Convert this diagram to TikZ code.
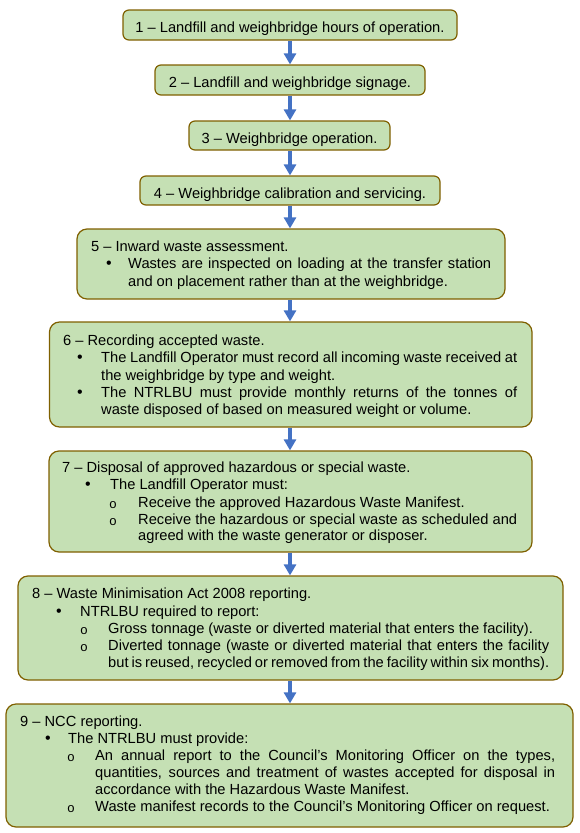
\documentclass[tikz,border=0pt]{standalone}
\usepackage{fontspec}
\setmainfont{Liberation Sans}
\newfontfamily\monofnt{Liberation Mono}
\usetikzlibrary{arrows.meta}
\definecolor{boxfill}{HTML}{C5E0B4}
\definecolor{boxline}{HTML}{7F6000}
\definecolor{arrblue}{HTML}{4472C4}
\tikzset{
  box/.style={draw=boxline, fill=boxfill, line width=1.2pt, inner sep=0pt, rounded corners=10pt},
  sbox/.style={box, rounded corners=6pt},
  txt/.style={anchor=base west, inner sep=0pt, font=\fontsize{14.67}{17.2}\selectfont},
  ctxt/.style={anchor=base, inner sep=0pt, font=\fontsize{14.67}{17.2}\selectfont},
  bul/.style={anchor=base, inner sep=0pt, font=\fontsize{16}{17.2}\selectfont},
  subb/.style={anchor=base, inner sep=0pt, font=\monofnt\fontsize{13}{17.2}\selectfont},
  arr/.style={draw=arrblue, line width=4.5pt, -{Triangle[width=12pt,length=11pt]}},
}
\newcommand{\jl}[2]{\makebox[#1pt][s]{#2}}
\begin{document}
\begin{tikzpicture}[x=1pt,y=-1pt]
\useasboundingbox (0,0) rectangle (580,833);
% boxes
\node[sbox, minimum width=334pt, minimum height=30pt] (b1) at (290,25) {};
\node[sbox, minimum width=270pt, minimum height=30pt] (b2) at (290,80) {};
\node[sbox, minimum width=201pt, minimum height=29pt] (b3) at (289.5,135.5) {};
\node[sbox, minimum width=300pt, minimum height=29pt] (b4) at (290,190.5) {};
\node[box, minimum width=428pt, minimum height=70pt] (b5) at (291,264) {};
\node[box, minimum width=482.5pt, minimum height=105pt] (b6) at (290.75,374.5) {};
\node[box, minimum width=483pt, minimum height=101pt] (b7) at (290.5,501.5) {};
\node[box, minimum width=545pt, minimum height=104pt] (b8) at (290.5,628) {};
\node[box, minimum width=567pt, minimum height=123pt] (b9) at (289.5,765.5) {};
% arrows
\coordinate (a1) at (290,0);
\draw[arr] (a1 |- b1.south) -- (a1 |- b2.north);
\draw[arr] (a1 |- b2.south) -- (a1 |- b3.north);
\draw[arr] (a1 |- b3.south) -- (a1 |- b4.north);
\draw[arr] (a1 |- b4.south) -- (a1 |- b5.north);
\draw[arr] (a1 |- b5.south) -- (a1 |- b6.north);
\draw[arr] (a1 |- b6.south) -- (a1 |- b7.north);
\draw[arr] (a1 |- b7.south) -- (a1 |- b8.north);
\draw[arr] (a1 |- b8.south) -- (a1 |- b9.north);
% box 1-4
\node[ctxt] (t1) at (290,32) {1 – Landfill and weighbridge hours of operation.};
\node[ctxt] (t2) at (290,87) {2 – Landfill and weighbridge signage.};
\node[ctxt] (t3) at (289.5,143) {3 – Weighbridge operation.};
\node[ctxt] (t4) at (290,198) {4 – Weighbridge calibration and servicing.};
% box 5
\node[txt] (t5a) at (91,251) {5 – Inward waste assessment.};
\node[bul] (t5b) at (109,268.5) {•};
\node[txt] (t5c) at (128,268.5) {\jl{363}{Wastes are inspected on loading at the transfer station}};
\node[txt] (t5d) at (128,286) {and on placement rather than at the weighbridge.};
% box 6
\node[txt] (t6a) at (63,345) {6 – Recording accepted waste.};
\node[bul] (t6b) at (80,362.5) {•};
\node[txt] (t6c) at (101,362.5) {\jl{416}{The Landfill Operator must record all incoming waste received at}};
\node[txt] (t6d) at (101,380) {the weighbridge by type and weight.};
\node[bul] (t6e) at (80,397) {•};
\node[txt] (t6f) at (101,397) {\jl{416}{The NTRLBU must provide monthly returns of the tonnes of}};
\node[txt] (t6g) at (101,414) {waste disposed of based on measured weight or volume.};
% box 7
\node[txt] (t7a) at (62,472) {7 – Disposal of approved hazardous or special waste.};
\node[bul] (t7b) at (88,489.5) {•};
\node[txt] (t7c) at (110,489.5) {The Landfill Operator must:};
\node[subb] (t7d) at (113,508) {o};
\node[txt] (t7e) at (138,507) {Receive the approved Hazardous Waste Manifest.};
\node[subb] (t7f) at (113,525) {o};
\node[txt] (t7g) at (138,524) {\jl{379}{Receive the hazardous or special waste as scheduled and}};
\node[txt] (t7h) at (138,540.5) {agreed with the waste generator or disposer.};
% box 8
\node[txt] (t8a) at (32,598) {8 – Waste Minimisation Act 2008 reporting.};
\node[bul] (t8b) at (59,616) {•};
\node[txt] (t8c) at (80,616) {NTRLBU required to report:};
\node[subb] (t8d) at (84,634) {o};
\node[txt] (t8e) at (108,633) {Gross tonnage (waste or diverted material that enters the facility).};
\node[subb] (t8f) at (84,651.5) {o};
\node[txt] (t8g) at (108,650.5) {\jl{441}{Diverted tonnage (waste or diverted material that enters the facility}};
\node[txt] (t8h) at (108,667.5) {\jl{441}{but is reused, recycled or removed from the facility within six months).}};
% box 9
\node[txt] (t9a) at (20,726) {9 – NCC reporting.};
\node[bul] (t9b) at (48,743.5) {•};
\node[txt] (t9c) at (68,743.5) {The NTRLBU must provide:};
\node[subb] (t9d) at (71,761.5) {o};
\node[txt] (t9e) at (95,760.5) {\jl{460}{An annual report to the Council’s Monitoring Officer on the types,}};
\node[txt] (t9f) at (95,777.5) {\jl{460}{quantities, sources and treatment of wastes accepted for disposal in}};
\node[txt] (t9g) at (95,794) {accordance with the Hazardous Waste Manifest.};
\node[subb] (t9h) at (71,812) {o};
\node[txt] (t9i) at (95,811) {Waste manifest records to the Council’s Monitoring Officer on request.};
\end{tikzpicture}
\end{document}
